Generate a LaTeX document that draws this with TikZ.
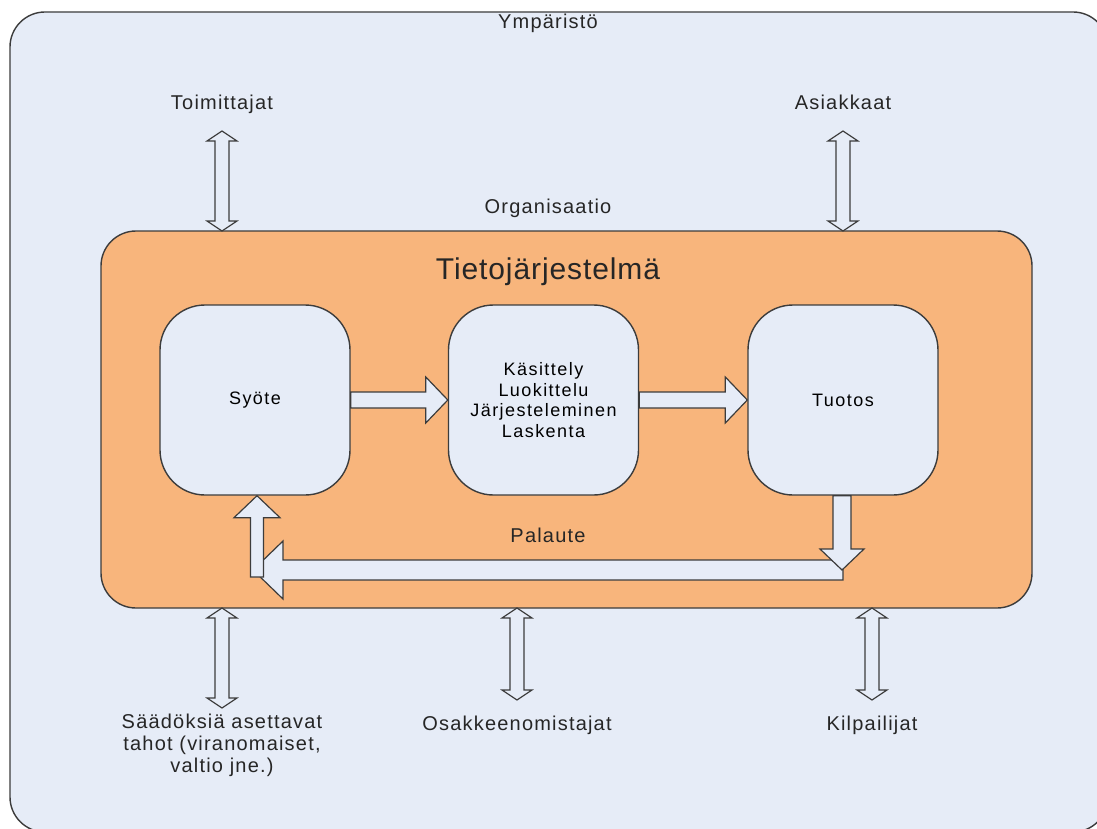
\documentclass[tikz,border=0pt]{standalone}
\usepackage{fontspec}
\setmainfont{Liberation Sans}
\usetikzlibrary{calc}
\definecolor{envfill}{RGB}{230,236,247}
\definecolor{orgfill}{RGB}{248,181,124}
\definecolor{edge}{RGB}{60,60,60}
\tikzset{
  panel/.style={draw=edge, line width=1.4pt, rounded corners=#1},
  procbox/.style={draw=edge, line width=1.4pt, fill=envfill, rounded corners=45pt,
    minimum width=190pt, minimum height=190pt, inner sep=0pt, align=center,
    font=\fontsize{18}{20.7}\selectfont\addfontfeatures{LetterSpace=8}},
  lbl/.style={font=\fontsize{20}{22}\selectfont\addfontfeatures{LetterSpace=6}, align=center, inner sep=0pt, text=black!85},
  blk/.style={draw=edge, line width=1.2pt, fill=envfill, line join=miter},
}
\newcommand\dblarrow[2]{\draw[blk] let \p1=(#1), \p2=(#2) in
  (\x1,\y1) -- (\x1+15pt,\y1-10pt) -- (\x1+7pt,\y1-10pt) -- (\x1+7pt,\y2+10pt)
  -- (\x1+15pt,\y2+10pt) -- (\x1,\y2) -- (\x1-15pt,\y2+10pt) -- (\x1-7pt,\y2+10pt)
  -- (\x1-7pt,\y1-10pt) -- (\x1-15pt,\y1-10pt) -- cycle;}
\newcommand\rgtarrow[2]{\draw[blk] let \p1=(#1), \p2=(#2) in
  (\x1,\y1+8pt) -- (\x2-22pt,\y1+8pt) -- (\x2-22pt,\y1+23pt) -- (\x2,\y1)
  -- (\x2-22pt,\y1-23pt) -- (\x2-22pt,\y1-8pt) -- (\x1,\y1-8pt) -- cycle;}
\begin{document}
\begin{tikzpicture}[x=1pt,y=-1pt]
\useasboundingbox (0,0) rectangle (1097,829);
\begin{scope}
\clip (0,0) rectangle (1097,829);
\fill[white] (0,0) rectangle (1097,829);
\draw[panel=35pt, fill=envfill] (10,12) rectangle (1108,832);
\end{scope}
\draw[panel=35pt, fill=orgfill] (101,231) rectangle (1032,608);
\coordinate (orgtop) at (566,231);
\coordinate (orgbot) at (566,608);

% texts
\node[lbl, anchor=base] (env) at (548,29) {Ympäristö};
\node[lbl, anchor=base] (toim) at (222,110) {Toimittajat};
\node[lbl, anchor=base] (asi) at (843,110) {Asiakkaat};
\node[lbl, anchor=base] (orgt) at (548,214) {Organisaatio};
\node[lbl, anchor=base, font=\fontsize{30}{34}\selectfont\addfontfeatures{LetterSpace=3}] (tj) at (548,279) {Tietojärjestelmä};
\node[lbl, anchor=base] (pal) at (548,542) {Palaute};
\node[lbl] (saad) at (222,745) {Säädöksiä asettavat\\tahot (viranomaiset,\\valtio jne.)};
\node[lbl, anchor=base] (osak) at (517,730) {Osakkeenomistajat};
\node[lbl, anchor=base] (kilp) at (872,730) {Kilpailijat};

% process boxes
\node[procbox] (syote) at (255,400) {Syöte};
\node[procbox] (proc) at (543.5,400) {Käsittely\\Luokittelu\\Järjesteleminen\\Laskenta};
\node[procbox] (tuotos) at (843,400) {Tuotos};

% arrows between boxes
\rgtarrow{syote.east}{proc.west}
\rgtarrow{proc.east}{tuotos.west}

% double arrows to environment
\coordinate (toimA) at (222,131);
\coordinate (asiA) at (843,131);
\coordinate (saadA) at (222,708);
\coordinate (osakA) at (517,700);
\coordinate (kilpA) at (872,700);
\dblarrow{toimA}{toimA |- orgtop}
\dblarrow{asiA}{asiA |- orgtop}
\dblarrow{saadA |- orgbot}{saadA}
\dblarrow{osakA |- orgbot}{osakA}
\dblarrow{kilpA |- orgbot}{kilpA}

% feedback loop
\coordinate (fbR) at (843,570);
\coordinate (fbL) at (253,570);
\draw[blk] let \p1=(fbR), \p2=(fbL) in
  (\x1,\y1+10pt) -- (\x2+30pt,\y1+10pt) -- (\x2+30pt,\y1+29pt) -- (\x2,\y1)
  -- (\x2+30pt,\y1-29pt) -- (\x2+30pt,\y1-10pt) -- (\x1,\y1-10pt) -- cycle;
\draw[blk] let \p1=($(tuotos.south)+(-1,0)$), \p2=(fbR) in
  (\x1-9pt,\y1) -- (\x1+9pt,\y1) -- (\x1+9pt,\y2+21pt) -- (\x1+22pt,\y2+21pt)
  -- (\x1,\y2) -- (\x1-22pt,\y2+21pt) -- (\x1-9pt,\y2+21pt) -- cycle;
\draw[blk] let \p1=($(syote.south)+(2,0)$), \p2=(fbL) in
  (\x1,\y1) -- (\x1+23pt,\y1-22pt) -- (\x1+6.5pt,\y1-22pt) -- (\x1+6.5pt,\y2-7pt)
  -- (\x1-6.5pt,\y2-7pt) -- (\x1-6.5pt,\y1-22pt) -- (\x1-23pt,\y1-22pt) -- cycle;
\end{tikzpicture}
\end{document}
